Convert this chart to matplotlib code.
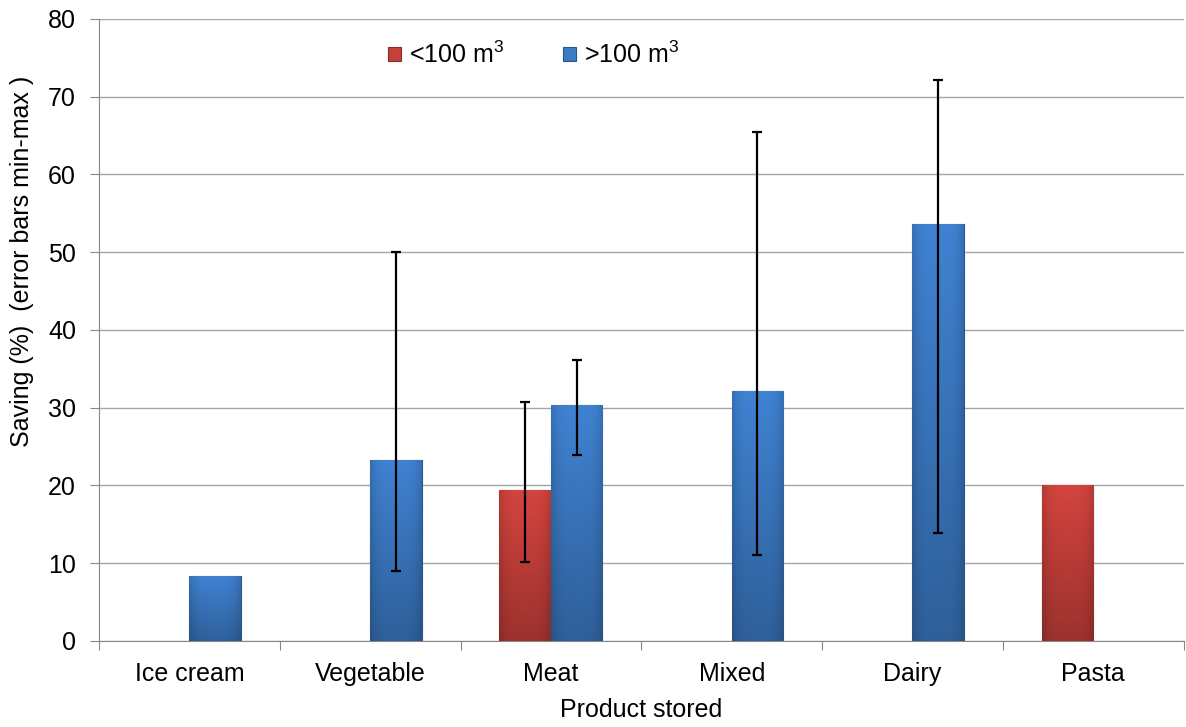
import matplotlib
matplotlib.use("Agg")
import matplotlib.pyplot as plt
import numpy as np

plt.rcParams['font.family'] = ['Liberation Sans', 'DejaVu Sans']
plt.rcParams['mathtext.fontset'] = 'custom'
plt.rcParams['mathtext.rm'] = 'Liberation Sans'

categories = ['Ice cream', 'Vegetable', 'Meat', 'Mixed', 'Dairy', 'Pasta']
small_vals = [np.nan, np.nan, 19.4, np.nan, np.nan, 20.1]   # <100 m3
small_min = [np.nan, np.nan, 10.2, np.nan, np.nan, np.nan]
small_max = [np.nan, np.nan, 30.8, np.nan, np.nan, np.nan]
large_vals = [8.4, 23.3, 30.4, 32.1, 53.6, np.nan]          # >100 m3
large_min = [np.nan, 9.0, 23.9, 11.0, 13.9, np.nan]
large_max = [np.nan, 50.0, 36.1, 65.5, 72.2, np.nan]

red = '#C8403B'
blue = '#3C7BC6'

x = np.arange(len(categories))
w = 0.285

fig = plt.figure(figsize=(11.86, 7.27), dpi=100)
ax = fig.add_axes([0.0835, 0.1183, 0.9145, 0.8556])

b1 = ax.bar(x - w/2, small_vals, w, color=red, edgecolor='#8E2A26', linewidth=0.8, zorder=3, label='<100 m$^3$')
b2 = ax.bar(x + w/2, large_vals, w, color=blue, edgecolor='#29558E', linewidth=0.8, zorder=3, label='>100 m$^3$')

# shaded fill inside each bar (lighter on top, darker at the bottom and sides)
def shade(bars, col):
    base = np.array(matplotlib.colors.to_rgb(col))
    v = np.linspace(0, 1, 60)[:, None]
    u = np.linspace(-1, 1, 30)[None, :]
    f = (1.06 - 0.28 * v) * (1 - 0.14 * np.abs(u) ** 4)
    img = np.clip(base[None, None, :] * f[:, :, None], 0, 1)
    for b in bars:
        if np.isnan(b.get_height()):
            continue
        x0, y0 = b.get_xy()
        im = ax.imshow(img, extent=[x0, x0 + b.get_width(), y0, y0 + b.get_height()],
                       aspect='auto', zorder=3.1, interpolation='bilinear')
        im.set_clip_path(b)

shade(b1, red)
shade(b2, blue)

def errs(vals, lo, hi):
    vals, lo, hi = np.array(vals), np.array(lo), np.array(hi)
    m = ~np.isnan(lo)
    return m, vals[m], np.vstack([vals[m] - lo[m], hi[m] - vals[m]])

m, v, e = errs(small_vals, small_min, small_max)
ax.errorbar(x[m] - w/2, v, yerr=e, fmt='none', ecolor='black', elinewidth=1.6, capsize=3.5, capthick=1.6, zorder=4)
m, v, e = errs(large_vals, large_min, large_max)
ax.errorbar(x[m] + w/2, v, yerr=e, fmt='none', ecolor='black', elinewidth=1.6, capsize=3.5, capthick=1.6, zorder=4)

ax.set_ylim(0, 80)
ax.set_xlim(-0.5, len(categories) - 0.5)
ax.set_yticks(np.arange(0, 81, 10))
ax.yaxis.grid(True, color='#A6A6A6', linewidth=1, zorder=0)
ax.set_axisbelow(True)
ax.tick_params(axis='y', length=6.5, color='#888888', labelsize=18, pad=10)

ax.set_xticks(np.arange(-0.5, len(categories)), minor=False)
ax.set_xticklabels([])
ax.set_xticks(x, minor=True)
ax.set_xticklabels(categories, minor=True, fontsize=18)
ax.tick_params(axis='x', which='major', length=6.5, color='#888888')
ax.tick_params(axis='x', which='minor', length=0, pad=15)

for s in ['top', 'right']:
    ax.spines[s].set_visible(False)
for s in ['left', 'bottom']:
    ax.spines[s].set_color('#888888')

ax.set_ylabel('Saving (%)  (error bars min-max )', fontsize=18)
ax.yaxis.set_label_coords(-0.06, 0.61)
ax.set_xlabel('Product stored', fontsize=18, labelpad=9)

leg = fig.legend(handles=[b1, b2], loc='center left', bbox_to_anchor=(388 / 1186, 1 - 55 / 727),
                 ncol=2, frameon=False, fontsize=18, borderpad=0, borderaxespad=0,
                 handlelength=0.5, handleheight=0.5, columnspacing=2.35, handletextpad=0.35)

fig.savefig('out.png', dpi=100)
